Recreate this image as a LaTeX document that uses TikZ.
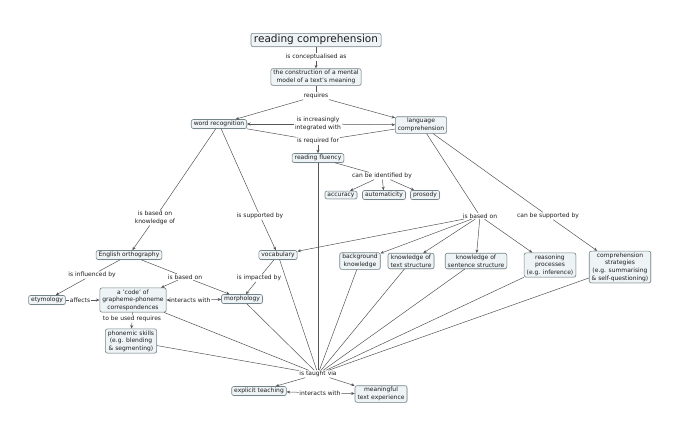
\documentclass[tikz,border=0pt]{standalone}
\usepackage{fontspec}
\setmainfont{DejaVu Sans}
\usetikzlibrary{arrows.meta,shadows}
\definecolor{boxfill}{HTML}{EEF3F5}
\definecolor{boxline}{HTML}{76858B}
\definecolor{linec}{HTML}{555555}
\definecolor{txt}{HTML}{1E1E1E}
\begin{document}
\begin{tikzpicture}[x=1pt,y=-1pt,
  concept/.style={draw=boxline,fill=boxfill,rounded corners=2pt,align=center,
    inner xsep=2.5pt,inner ysep=1.6pt,text=txt,line width=0.6pt,
    font=\fontsize{6}{7.6}\selectfont,
    drop shadow={shadow xshift=0.6pt,shadow yshift=-0.6pt,fill=gray!45}},
  lbl/.style={fill=white,inner sep=0.6pt,align=center,text=txt,
    font=\fontsize{6}{7.6}\selectfont},
  conn/.style={draw=linec,line width=0.5pt},
  arr/.style={conn,-{Stealth[length=3.5pt,width=3pt]}},
  barr/.style={conn,{Stealth[length=3.5pt,width=3pt]}-{Stealth[length=3.5pt,width=3pt]}}]
\useasboundingbox (0,0) rectangle (680,445);
% concepts
\node[concept,font=\fontsize{10.5}{12}\selectfont,inner xsep=3pt] (rc) at (316,40) {reading comprehension};
\node[concept] (cons) at (316,77) {the construction of a mental\\model of a text's meaning};
\node[concept] (wr) at (219,124) {word recognition};
\node[concept] (lc) at (421,125) {language\\comprehension};
\node[concept] (rf) at (318,158) {reading fluency};
\node[concept] (acc) at (341,195) {accuracy};
\node[concept] (aut) at (384,195) {automaticity};
\node[concept] (pro) at (425,195) {prosody};
\node[concept] (eo) at (129,255) {English orthography};
\node[concept] (voc) at (278,255) {vocabulary};
\node[concept] (bk) at (360,261) {background\\knowledge};
\node[concept] (kts) at (411,261) {knowledge of\\text structure};
\node[concept] (kss) at (476,261) {knowledge of\\sentence structure};
\node[concept] (rp) at (550,265) {reasoning\\processes\\(e.g. inference)};
\node[concept] (cs) at (620,267) {comprehension\\strategies\\(e.g. summarising\\\& self-questioning)};
\node[concept] (ety) at (47,300) {etymology};
\node[concept] (code) at (133,300) {a 'code' of\\grapheme-phoneme\\correspondences};
\node[concept] (mor) at (242,299) {morphology};
\node[concept] (ps) at (131,341) {phonemic skills\\(e.g. blending\\\& segmenting)};
\node[concept] (et) at (259,391) {explicit teaching};
\node[concept] (mte) at (381,394) {meaningful\\text experience};
% labels
\node[lbl] (l1) at (316,57) {is conceptualised as};
\node[lbl] (l2) at (316,96) {requires};
\node[lbl] (l3) at (318,124) {is increasingly\\integrated with};
\node[lbl] (l4) at (318,141) {is required for};
\node[lbl] (l5) at (382,176) {can be identified by};
\node[lbl] (l6) at (155,218) {is based on\\knowledge of};
\node[lbl] (l7) at (260,216) {is supported by};
\node[lbl] (l8) at (480,216) {is based on};
\node[lbl] (l9) at (548,216) {can be supported by};
\node[lbl] (l10) at (92,275) {is influenced by};
\node[lbl] (l11) at (185,277) {is based on};
\node[lbl] (l12) at (259,278) {is impacted by};
\node[lbl] (l13) at (80,300) {affects};
\node[lbl] (l14) at (190,300) {interacts with};
\node[lbl] (l15) at (132,319) {to be used requires};
\node[lbl] (l16) at (318,374) {is taught via};
\node[lbl] (l17) at (320,393) {interacts with};
% connectors
\draw[conn] (rc) -- (l1); \draw[arr] (l1) -- (cons);
\draw[conn] (cons) -- (l2); \draw[arr] (l2) -- (wr); \draw[arr] (l2) -- (lc);
\draw[arr] (l3) -- (wr); \draw[arr] (l3) -- (lc);
\draw[conn] (wr) -- (l4); \draw[conn] (lc) -- (l4); \draw[arr] (l4) -- (rf);
\draw[conn] (rf) -- (l5); \draw[arr] (l5) -- (acc); \draw[arr] (l5) -- (aut); \draw[arr] (l5) -- (pro);
\draw[conn] (wr) -- (l6); \draw[arr] (l6) -- (eo);
\draw[conn] (wr) -- (l7); \draw[arr] (l7) -- (voc);
\draw[conn] (lc) -- (l8);
\draw[arr] (l8) -- (voc); \draw[arr] (l8) -- (bk); \draw[arr] (l8) -- (kts);
\draw[arr] (l8) -- (kss); \draw[arr] (l8) -- (rp);
\draw[conn] (lc) -- (l9); \draw[arr] (l9) -- (cs);
\draw[conn] (eo) -- (l10); \draw[arr] (l10) -- (ety);
\draw[conn] (eo) -- (l11); \draw[arr] (l11) -- (code); \draw[arr] (l11) -- (mor);
\draw[conn] (voc) -- (l12); \draw[arr] (l12) -- (mor);
\draw[conn] (ety) -- (l13); \draw[arr] (l13) -- (code);
\draw[arr] (l14) -- (code); \draw[arr] (l14) -- (mor);
\draw[conn] (code) -- (l15); \draw[arr] (l15) -- (ps);
\foreach \n in {code,ps,mor,voc,rf,bk,kts,kss,rp,cs}{\draw[conn] (\n) -- (l16);}
\draw[arr] (l16) -- (et); \draw[arr] (l16) -- (mte);
\draw[arr] (l17) -- (et); \draw[arr] (l17) -- (mte);
\end{tikzpicture}
\end{document}
